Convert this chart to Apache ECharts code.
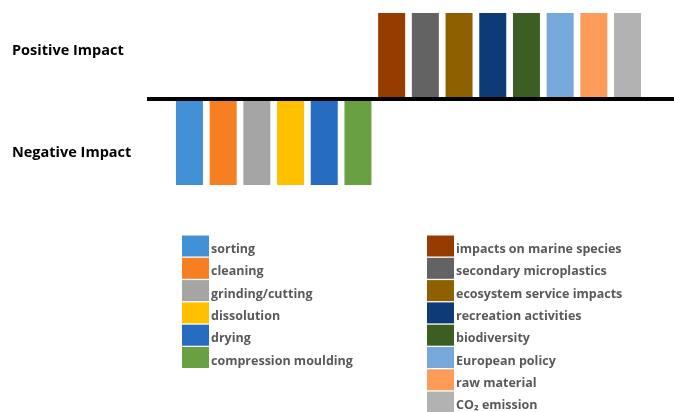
<!DOCTYPE html>
<html>
<head>
<meta charset="utf-8">
<script src="https://cdn.jsdelivr.net/npm/echarts@6/dist/echarts.min.js"></script>
<style>
  html, body { margin: 0; padding: 0; background: #fff; }
  #chart { width: 674px; height: 412px; }
</style>
</head>
<body>
<div id="chart"></div>
<script>
// Process steps (negative impact) followed by environmental/policy effects (positive impact)
const negativeItems = ['sorting', 'cleaning', 'grinding/cutting', 'dissolution', 'drying', 'compression moulding'];
const positiveItems = ['impacts on marine species', 'secondary microplastics', 'ecosystem service impacts',
  'recreation activities', 'biodiversity', 'European policy', 'raw material', 'CO₂ emission'];
const categories = negativeItems.concat(positiveItems);
const impactValues = [-1, -1, -1, -1, -1, -1, 1, 1, 1, 1, 1, 1, 1, 1];
const barColors = ['#4391d5', '#f57f21', '#a5a5a5', '#ffc000', '#256bc0', '#68a042',
  '#963c00', '#636363', '#8f6000', '#0e3a75', '#3c5e23', '#76a8db', '#fe9b59', '#b2b2b2'];

const chart = echarts.init(document.getElementById('chart'), null, { renderer: 'canvas' });

// One series per category so each gets its own legend entry; stacking keeps them in one slot.
const series = categories.map((name, i) => ({
  name: name,
  type: 'bar',
  stack: 'impact',
  barWidth: 27,
  itemStyle: { color: barColors[i] },
  data: categories.map((c, j) => (j === i ? impactValues[i] : '-'))
}));

// Legend labels sit a little low against their swatches and close to them
const legendText = {
  color: '#595959',
  fontFamily: 'Open Sans',
  fontWeight: 'bold',
  fontSize: 12.5,
  rich: {
    t: {
      color: '#595959',
      fontFamily: 'Open Sans',
      fontWeight: 'bold',
      fontSize: 12.5,
      padding: [7, 0, 0, -3]
    }
  }
};

const sideLabel = { fontFamily: 'Open Sans', fontWeight: 'bold', fontSize: 14.5, color: '#000' };

chart.setOption({
  animation: false,
  backgroundColor: '#ffffff',
  title: [
    { text: 'Positive Impact', left: 12, top: 43, padding: 0, textStyle: sideLabel },
    { text: 'Negative Impact', left: 12, top: 145.5, padding: 0, textStyle: sideLabel }
  ],
  grid: { left: 172.6, width: 471.8, top: 13, height: 172 },
  xAxis: {
    type: 'category',
    data: categories,
    show: false
  },
  yAxis: {
    type: 'value',
    min: -1,
    max: 1,
    show: false
  },
  legend: [
    {
      data: negativeItems,
      orient: 'vertical',
      left: 182, top: 235.5, height: 200,
      padding: 0,
      itemWidth: 27, itemHeight: 21, itemGap: 1.3,
      icon: 'rect',
      selectedMode: false,
      formatter: '{t|{name}}',
      textStyle: legendText
    },
    {
      data: positiveItems,
      orient: 'vertical',
      left: 427, top: 235.5, height: 200,
      padding: 0,
      itemWidth: 27, itemHeight: 21, itemGap: 1.3,
      icon: 'rect',
      selectedMode: false,
      formatter: '{t|{name}}',
      textStyle: legendText
    }
  ],
  series: series
});

// Heavy zero line spanning past the bars, placed at the y-axis zero
const zeroY = chart.convertToPixel({ yAxisIndex: 0 }, 0);
chart.setOption({
  graphic: [{
    type: 'line',
    z: 100,
    shape: { x1: 147, y1: zeroY, x2: 674, y2: zeroY },
    style: { stroke: '#000', lineWidth: 4 }
  }]
});
</script>
</body>
</html>
